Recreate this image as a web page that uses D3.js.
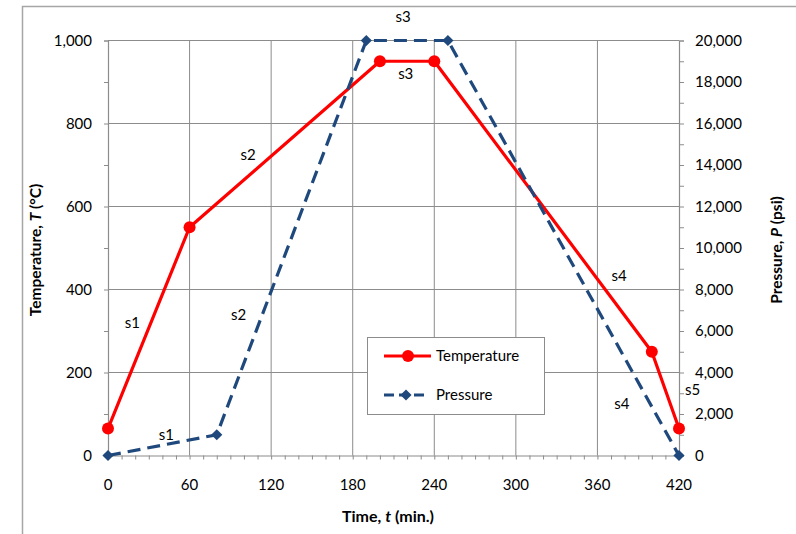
<!DOCTYPE html>
<html><head><meta charset="utf-8">
<script src="https://cdn.jsdelivr.net/npm/d3@7"></script>
<style>body{margin:0;background:#fff}svg{display:block}text{font-family:Lato,"Open Sans",sans-serif;fill:#000}</style>
</head><body><svg id="c" width="796" height="534"></svg>
<script>
const times = [0, 60, 200, 240, 400, 420];
const temperature = [65, 550, 950, 950, 250, 65];
const pTimes = [0, 80, 190, 250, 420];
const pressure = [0, 1000, 20000, 20000, 0];
const xTicks = [0, 60, 120, 180, 240, 300, 360, 420];
const tTicks = [0, 200, 400, 600, 800, 1000];
const pTicks = [0, 2000, 4000, 6000, 8000, 10000, 12000, 14000, 16000, 18000, 20000];
const segLabels = [
  {t: "s1", x: 18, y: 320, axis: "T"},
  {t: "s2", x: 103, y: 725, axis: "T"},
  {t: "s3", x: 217, y: 1057, axis: "T"},
  {t: "s3", x: 219, y: 920, axis: "T"},
  {t: "s4", x: 376, y: 432, axis: "T"},
  {t: "s1", x: 43, y: 1000, axis: "P"},
  {t: "s2", x: 96, y: 6750, axis: "P"},
  {t: "s4", x: 378, y: 2500, axis: "P"},
  {t: "s5", x: 430, y: 3150, axis: "P"}
];

const svg = d3.select("#c");
const x = d3.scaleLinear().domain([0, 420]).range([108, 679]);
const yT = d3.scaleLinear().domain([0, 1000]).range([455.5, 40.5]);
const yP = d3.scaleLinear().domain([0, 20000]).range([455.5, 40.5]);
const grid = "#8c8c8c";

// outer frame
svg.append("path").attr("d", "M22.5,540 L22.5,6.5 L800,6.5").attr("fill", "none").attr("stroke", "#a6a6a6").attr("stroke-width", 1.5);

// gridlines
svg.append("g").selectAll("line").data(xTicks.slice(1, -1)).join("line")
  .attr("x1", d => x(d)).attr("x2", d => x(d)).attr("y1", yT(1000)).attr("y2", yT(0))
  .attr("stroke", grid).attr("stroke-width", 1);
svg.append("g").selectAll("line").data(tTicks.slice(1)).join("line")
  .attr("x1", x(0)).attr("x2", x(420)).attr("y1", d => yT(d)).attr("y2", d => yT(d))
  .attr("stroke", grid).attr("stroke-width", 1);

// axes
const xAxis = d3.axisBottom(x).tickValues(d3.range(0, 421, 10)).tickSize(4).tickFormat("");
const gx = svg.append("g").attr("transform", `translate(0,${yT(0)})`).call(xAxis);
const yAxisL = d3.axisLeft(yT).tickValues(d3.range(0, 1001, 100)).tickSize(4).tickFormat("");
const gl = svg.append("g").attr("transform", `translate(${x(0)},0)`).call(yAxisL);
const yAxisR = d3.axisRight(yP).tickValues(d3.range(0, 20001, 1000)).tickSize(5).tickFormat("");
const gr = svg.append("g").attr("transform", `translate(${x(420)},0)`).call(yAxisR);
[gx, gl, gr].forEach(g => { g.select(".domain").attr("stroke", grid).attr("stroke-width", 1.2); g.selectAll(".tick line").attr("stroke", grid); });

// tick labels
svg.append("g").selectAll("text").data(xTicks).join("text")
  .attr("x", d => x(d)).attr("y", 490).attr("text-anchor", "middle").attr("font-size", 15).text(d => d);
svg.append("g").selectAll("text").data(tTicks).join("text")
  .attr("x", 92).attr("y", d => yT(d) + 5).attr("text-anchor", "end").attr("font-size", 15).text(d3.format(","));
svg.append("g").selectAll("text").data(pTicks).join("text")
  .attr("x", 695).attr("y", d => yP(d) + 5).attr("text-anchor", "start").attr("font-size", 15).text(d3.format(","));

// axis titles
const xt = svg.append("text").attr("x", 388).attr("y", 522).attr("text-anchor", "middle").attr("font-size", 16).attr("font-weight", "bold");
xt.append("tspan").text("Time, ");
xt.append("tspan").attr("font-style", "italic").text("t");
xt.append("tspan").text(" (min.)");
const lt = svg.append("text").attr("transform", "translate(41,250) rotate(-90)").attr("text-anchor", "middle").attr("font-size", 15.5).attr("font-weight", "bold");
lt.append("tspan").text("Temperature, ");
lt.append("tspan").attr("font-style", "italic").text("T");
lt.append("tspan").text(" (°C)");
const rt = svg.append("text").attr("transform", "translate(782,250) rotate(-90)").attr("text-anchor", "middle").attr("font-size", 15.5).attr("font-weight", "bold");
rt.append("tspan").text("Pressure, ");
rt.append("tspan").attr("font-style", "italic").text("P");
rt.append("tspan").text(" (psi)");

// series
const red = "#ff0000", blue = "#1f497d";
const tData = times.map((t, i) => [t, temperature[i]]);
const pData = pTimes.map((t, i) => [t, pressure[i]]);
svg.append("path").datum(tData)
  .attr("d", d3.line().x(d => x(d[0])).y(d => yT(d[1])))
  .attr("fill", "none").attr("stroke", red).attr("stroke-width", 3.2).attr("stroke-linejoin", "round");
svg.append("g").selectAll("circle").data(tData).join("circle")
  .attr("cx", d => x(d[0])).attr("cy", d => yT(d[1])).attr("r", 6).attr("fill", red);
svg.append("path").datum(pData)
  .attr("d", d3.line().x(d => x(d[0])).y(d => yP(d[1])))
  .attr("fill", "none").attr("stroke", blue).attr("stroke-width", 3.2).attr("stroke-dasharray", "13,7");
svg.append("g").selectAll("path").data(pData).join("path")
  .attr("d", d3.symbol().type(d3.symbolSquare).size(62))
  .attr("transform", d => `translate(${x(d[0])},${yP(d[1])}) rotate(45)`)
  .attr("fill", blue);

// segment labels
svg.append("g").selectAll("text").data(segLabels).join("text")
  .attr("x", d => x(d.x)).attr("y", d => (d.axis === "T" ? yT(d.y) : yP(d.y)) + 5)
  .attr("text-anchor", "middle").attr("font-size", 15).text(d => d.t);

// legend
const lg = svg.append("g");
lg.append("rect").attr("x", 367.5).attr("y", 337.5).attr("width", 177).attr("height", 77).attr("fill", "#fff").attr("stroke", "#8c8c8c").attr("stroke-width", 1);
lg.append("line").attr("x1", 384).attr("x2", 431).attr("y1", 356).attr("y2", 356).attr("stroke", red).attr("stroke-width", 3.2);
lg.append("circle").attr("cx", 408).attr("cy", 356).attr("r", 6).attr("fill", red);
lg.append("text").attr("x", 436).attr("y", 361).attr("font-size", 15).text("Temperature");
lg.append("line").attr("x1", 384).attr("x2", 427).attr("y1", 395).attr("y2", 395).attr("stroke", blue).attr("stroke-width", 3.2).attr("stroke-dasharray", "10,5");
lg.append("path").attr("d", d3.symbol().type(d3.symbolSquare).size(62)).attr("transform", "translate(406,395) rotate(45)").attr("fill", blue);
lg.append("text").attr("x", 436).attr("y", 400).attr("font-size", 15).text("Pressure");
</script></body></html>
